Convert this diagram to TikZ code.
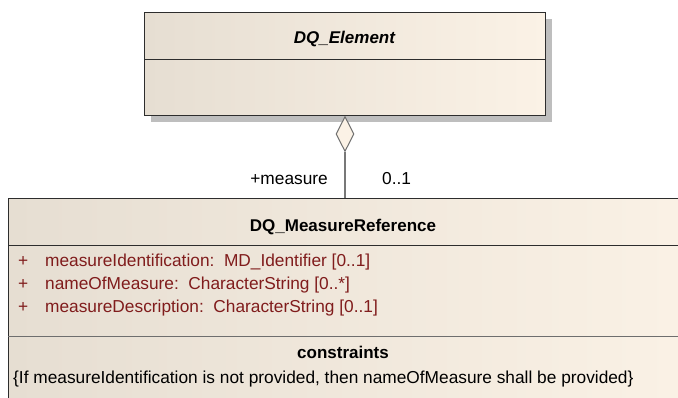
\documentclass[tikz,border=0pt]{standalone}
\usepackage{fontspec}
\setmainfont{Liberation Sans}
\usetikzlibrary{shapes.geometric,shadows}
\definecolor{boxL}{RGB}{230,222,210}
\definecolor{boxR}{RGB}{251,242,230}
\definecolor{attrc}{RGB}{128,28,28}
\definecolor{shadowc}{RGB}{190,190,190}
\definecolor{edgec}{RGB}{45,45,45}
\definecolor{sepc}{RGB}{110,110,110}
\definecolor{connc}{RGB}{120,120,120}
\begin{document}
\begin{tikzpicture}[x=1pt,y=-1pt,
  every node/.style={font=\fontsize{17.3}{20}\selectfont, inner sep=0pt},
  classbox/.style={draw=edgec, line width=1pt, left color=boxL, right color=boxR, anchor=north west},
  sepline/.style={draw=edgec, line width=1pt},
  grayline/.style={draw=sepc, line width=1pt},
  conn/.style={draw=connc, line width=1.3pt},
  attr/.style={anchor=base west, text=attrc},
  title/.style={anchor=base, font=\fontsize{17}{20}\selectfont\bfseries}]
\useasboundingbox (0,0) rectangle (678,397);
\clip (0,0) rectangle (678,397);
% upper class
\node[classbox, minimum width=401pt, minimum height=103pt,
      drop shadow={shadow xshift=6pt, shadow yshift=-6pt, fill=shadowc, opacity=1}] (elem) at (144,12) {};
\draw[sepline] (144,59) -- (545,59);
\node[title, font=\fontsize{17}{20}\selectfont\bfseries\itshape] (elemname) at (344.5,43) {DQ\_Element};
% lower class
\node[classbox, minimum width=700pt, minimum height=230pt] (mref) at (8,198) {};
\draw[sepline] (8,245) -- (700,245);
\draw[grayline] (8,336) -- (700,336);
\node[title] (mrefname) at (343,231) {DQ\_MeasureReference};
\node[attr] (p1) at (18,266) {+};
\node[attr] (a1) at (45,266) {measureIdentification:\ \ MD\_Identifier [0..1]};
\node[attr] (p2) at (18,289) {+};
\node[attr] (a2) at (45,289) {nameOfMeasure:\ \ CharacterString [0..*]};
\node[attr] (p3) at (18,312) {+};
\node[attr] (a3) at (45,312) {measureDescription:\ \ CharacterString [0..1]};
\node[title] (cons) at (343,358) {constraints};
\node[anchor=base west] (constext) at (13,383) {\{If measureIdentification is not provided, then nameOfMeasure shall be provided\}};
% aggregation
\node[diamond, draw=sepc, line width=1pt, fill=boxR, minimum width=18pt, minimum height=35pt, anchor=north] (agg) at (elem.south) {};
\draw[conn] (agg.south) -- (agg.south |- mref.north);
\node[anchor=base east] (role) at (328,184) {+measure};
\node[anchor=base west] (mult) at (382,184) {0..1};
\end{tikzpicture}
\end{document}
